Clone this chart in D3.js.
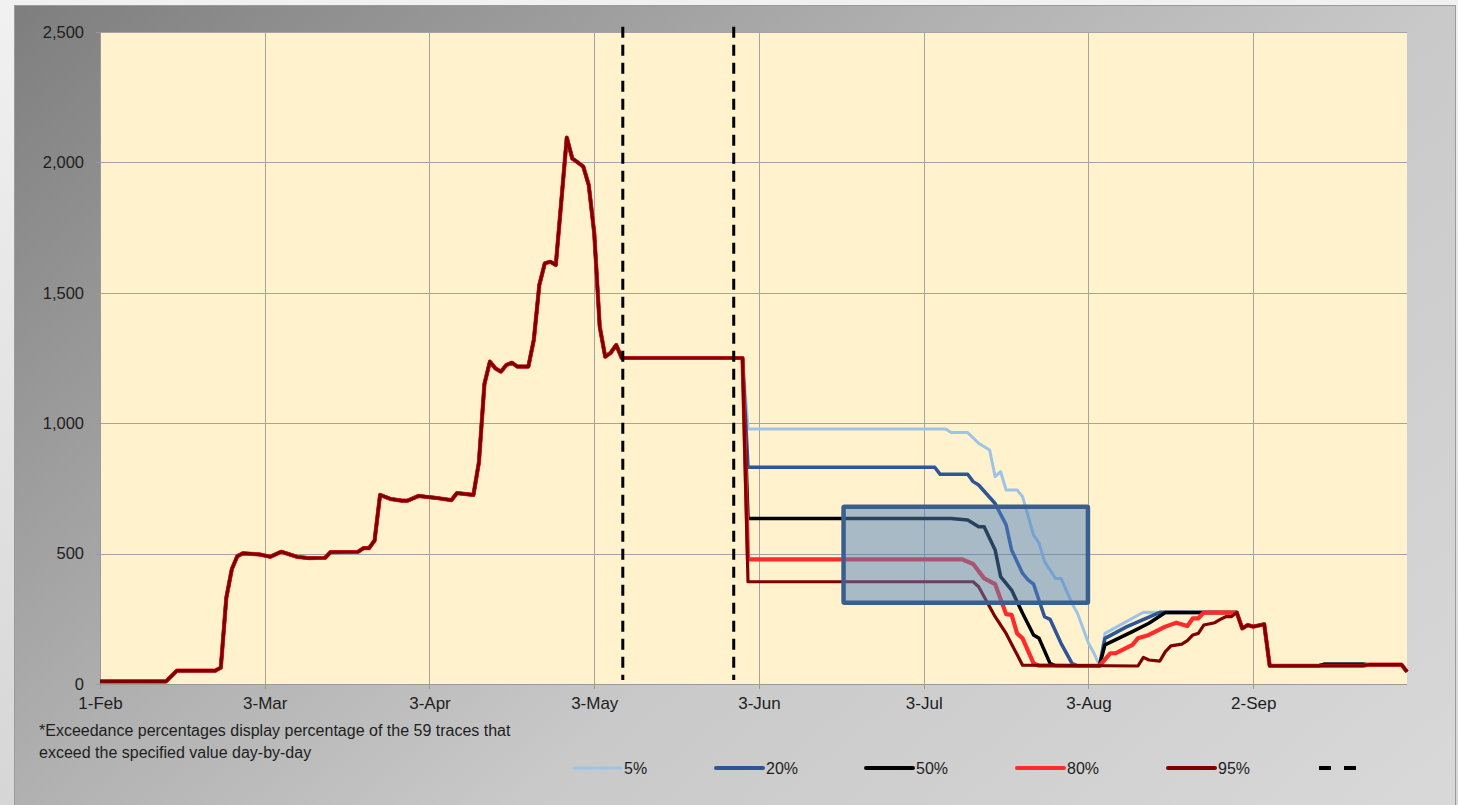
<!DOCTYPE html>
<html><head><meta charset="utf-8">
<script src="https://cdn.jsdelivr.net/npm/d3@7"></script>
<style>html,body{margin:0;padding:0;background:#e9e9e9;overflow:hidden}</style>
</head><body>
<svg id="c" width="1458" height="805"></svg>
<script>
// ---------- DATA ----------
const tickDays = [0,30,60,90,120,150,180,210];
const tickLabels = ["1-Feb","3-Mar","3-Apr","3-May","3-Jun","3-Jul","3-Aug","2-Sep"];
const yTicks = [0,500,1000,1500,2000,2500];
const seriesNames = ["5%","20%","50%","80%","95%"];
const seriesColors = ["#9dc3e6","#2f5597","#000000","#ff2b2b","#7f0000"];

// shared trace (all exceedance levels identical until late May)
const common = [[0,10],[12,10],[14,51],[21,51],[22,63],[23,330],[24,440],[25,490],[26,501],[29,497],[31,488],[33,507],[36,487],[38,483],[41,484],[42,506],[47,507],[48,521],[49,521],[50,550],[51,725],[53,709],[55,703],[56,703],[58,721],[61,714],[64,705],[65,732],[68,725],[69,850],[70,1150],[71,1236],[72,1210],[73,1198],[74,1223],[75,1232],[76,1217],[78,1217],[79,1320],[80,1530],[81,1613],[82,1619],[83,1607],[84,1850],[85,2095],[86,2015],[87,2000],[88,1984],[89,1913],[90,1729],[91,1370],[92,1255],[93,1270],[94,1300],[95,1250],[117,1250]];

const p5  = [[118,978],[154,978],[155,964],[158,964],[160,923],[162,897],[163,795],[164,814],[165,744],[167,744],[168,718],[170,571],[171,540],[172,469],[174,405],[175,405],[177,309],[178,271],[180,156],[181,118],[182,70],[183,194],[190,275],[207,274]];
const p20 = [[118,831],[152,831],[153,804],[158,804],[159,776],[160,763],[163,692],[165,610],[166,514],[168,424],[169,399],[170,383],[172,258],[173,248],[175,156],[177,79],[178,70],[182,70],[183,175],[187,220],[193,275],[207,274]];
const p50 = [[118,635],[155,635],[158,629],[160,603],[161,603],[163,514],[164,412],[166,360],[168,271],[170,188],[171,175],[173,79],[174,70],[182,70],[183,150],[188,201],[191,233],[194,274],[207,274]];
const p80 = [[118,478],[157,478],[159,460],[161,405],[163,383],[165,268],[166,265],[167,194],[168,175],[170,79],[171,70],[182,70],[184,118],[185,118],[188,150],[189,175],[191,188],[194,220],[196,235],[198,222],[199,252],[200,252],[201,274],[207,274]];
const p95 = [[118,392],[159,392],[160,373],[162,296],[163,258],[165,194],[168,72],[189,69],[190,102],[191,92],[193,88],[194,124],[195,146],[197,153],[198,166],[199,188],[200,194],[201,226],[203,235],[204,248],[205,258],[206,258],[207,274]];

const tailA = [[208,213],[209,226],[210,220],[212,229],[213,70],[230,70],[231,74],[237,74],[238,47]];
const tailB = [[208,213],[209,226],[210,220],[212,229],[213,70],[222,70],[223,76],[230,76],[231,74],[237,74],[238,47]];

const markerDays = [95.2, 115.4];
const boxDays = [135.4, 179.9];
const boxValues = [312, 680];

const footnote = ["*Exceedance percentages display percentage of the 59 traces that","exceed the specified value day-by-day"];

// ---------- CHART ----------
const svg = d3.select("#c");
const W = 1458, H = 805;
const m = {left:100, top:32, right:1407, bottom:684};
const x = d3.scaleLinear().domain([0,238]).range([m.left, m.right]);
const y = d3.scaleLinear().domain([0,2500]).range([m.bottom, m.top]);

const defs = svg.append("defs");
const pg = defs.append("linearGradient").attr("id","pageg").attr("x1",0).attr("y1",0).attr("x2",0).attr("y2",1);
pg.append("stop").attr("offset",0).attr("stop-color","#f1f1f1");
pg.append("stop").attr("offset",1).attr("stop-color","#d6d6d6");
const cg = defs.append("linearGradient").attr("id","chartg").attr("x1",0).attr("y1",0).attr("x2",1.154).attr("y2",0.769);
[[0,"#7e7e7e"],[0.4,"#b2b2b2"],[0.6,"#c9c9c9"],[1,"#d9d9d9"]].forEach(s=>cg.append("stop").attr("offset",s[0]).attr("stop-color",s[1]));

svg.append("rect").attr("width",W).attr("height",H).attr("fill","url(#pageg)");
svg.append("rect").attr("x",14.5).attr("y",5.5).attr("width",1441).attr("height",820)
  .attr("fill","url(#chartg)").attr("stroke","#9b9b9b").attr("stroke-width",1);

// plot area
svg.append("rect").attr("x",m.left).attr("y",m.top).attr("width",m.right-m.left).attr("height",m.bottom-m.top).attr("fill","#fff2cc");

// gridlines
const grid = svg.append("g").attr("stroke","#a3a3a3").attr("stroke-width",1).attr("shape-rendering","crispEdges");
grid.selectAll(".gy").data(yTicks).enter().append("line")
  .attr("x1",m.left).attr("x2",m.right).attr("y1",d=>Math.round(y(d))+0.5).attr("y2",d=>Math.round(y(d))+0.5);
grid.selectAll(".gx").data(tickDays).enter().append("line")
  .attr("y1",m.top).attr("y2",m.bottom).attr("x1",d=>Math.round(x(d))+0.5).attr("x2",d=>Math.round(x(d))+0.5);

// axes
const font = "'Liberation Sans', Arial, sans-serif";
const yAxis = d3.axisLeft(y).tickValues(yTicks).tickFormat(d3.format(",")).tickSize(4).tickPadding(12);
const gy = svg.append("g").attr("transform",`translate(${m.left},0)`).call(yAxis);
const xAxis = d3.axisBottom(x).tickValues(tickDays).tickFormat((d,i)=>tickLabels[i]).tickSize(5).tickPadding(8);
const gx = svg.append("g").attr("transform",`translate(0,${m.bottom})`).call(xAxis);
[gx,gy].forEach(g=>{
  g.selectAll("path,line").attr("stroke","#9a9a9a").attr("shape-rendering","crispEdges");
  g.selectAll("text").attr("fill","#1e1e1e").style("font-family",font);
});
gy.selectAll("text").style("font-size","16.5px");
gx.selectAll("text").style("font-size","17px");
gx.select(".domain").remove();
svg.append("line").attr("x1",m.left).attr("x2",m.right).attr("y1",m.bottom+0.5).attr("y2",m.bottom+0.5).attr("stroke","#9a9a9a");

// series
const allSeries = [
  common.concat(p5, tailA),
  common.concat(p20, tailB),
  common.concat(p50, tailB),
  common.concat(p80, tailA),
  common.concat(p95, tailA)
];
const widths = [3, 3.5, 3.5, 4.2, 3.2];
const line = d3.line().x(d=>x(d[0])).y(d=>y(d[1]));
svg.append("g").selectAll("path").data(allSeries).enter().append("path")
  .attr("d",line).attr("fill","none")
  .attr("stroke",(d,i)=>seriesColors[i]).attr("stroke-width",(d,i)=>widths[i])
  .attr("stroke-linejoin","round");

// highlight box
svg.append("rect")
  .attr("x",x(boxDays[0])).attr("y",y(boxValues[1]))
  .attr("width",x(boxDays[1])-x(boxDays[0])).attr("height",y(boxValues[0])-y(boxValues[1]))
  .attr("fill","#4f81bd").attr("fill-opacity",0.5)
  .attr("stroke","#3a5f8f").attr("stroke-width",4.5).attr("rx",1);

// dashed markers
svg.append("g").selectAll("line").data(markerDays).enter().append("line")
  .attr("x1",d=>x(d)).attr("x2",d=>x(d)).attr("y1",y(2520)).attr("y2",y(15))
  .attr("stroke","#000").attr("stroke-width",3).attr("stroke-dasharray","11,7");

// footnote
svg.append("g").selectAll("text").data(footnote).enter().append("text")
  .attr("x",39).attr("y",(d,i)=>736+i*22).text(d=>d)
  .style("font-family",font).style("font-size","16px").attr("fill","#1e1e1e");

// legend
const legX = [574,716,866,1017,1168];
const lg = svg.append("g");
seriesNames.forEach((n,i)=>{
  lg.append("line").attr("x1",legX[i]).attr("x2",legX[i]+47).attr("y1",768).attr("y2",768)
    .attr("stroke",seriesColors[i]).attr("stroke-width",i===0?3:4).attr("stroke-linecap","round");
  lg.append("text").attr("x",legX[i]+50).attr("y",774).text(n)
    .style("font-family",font).style("font-size","16px").attr("fill","#1e1e1e");
});
lg.append("line").attr("x1",1319).attr("x2",1356).attr("y1",768).attr("y2",768)
  .attr("stroke","#000").attr("stroke-width",4).attr("stroke-dasharray","12,13");
</script>
</body></html>
